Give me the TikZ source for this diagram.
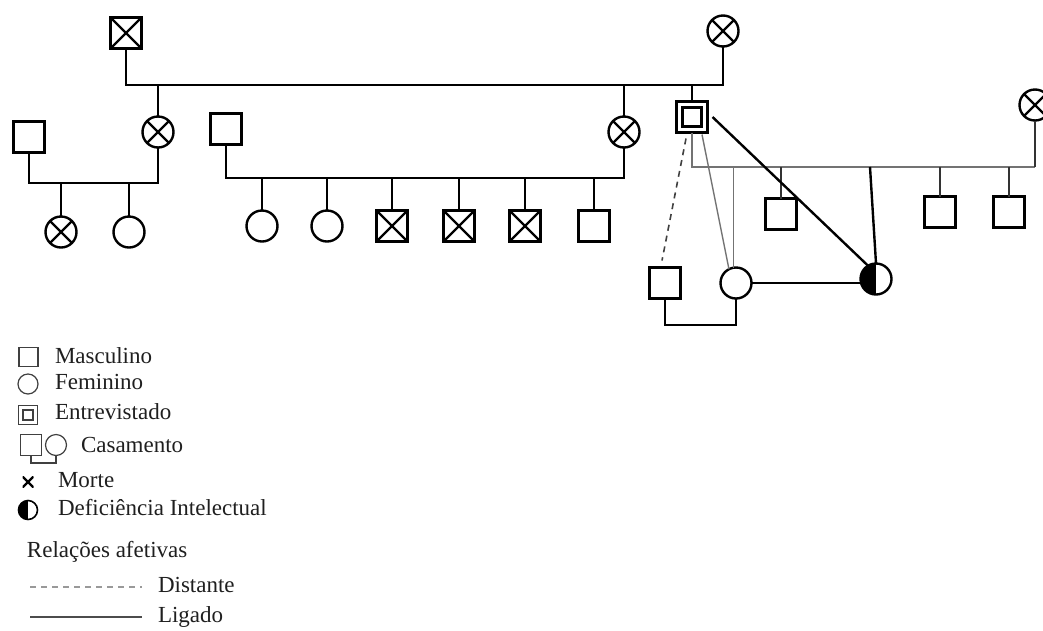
\documentclass[tikz,border=0pt]{standalone}
\usepackage{fontspec}
\setmainfont{Liberation Serif}
\usetikzlibrary{calc}
\begin{document}
\begin{tikzpicture}[x=1pt,y=-1pt,
  every node/.style={inner sep=0pt, outer sep=0pt},
  ln/.style={line width=2.4pt, black},
  mln/.style={line width=1.9pt, black!80},
  gln/.style={line width=1.4pt, black!55},
  sq/.style={draw, line width=2.4pt, rectangle, minimum size=31pt},
  ci/.style={draw, line width=2.4pt, circle, minimum size=31pt},
  dead/.style={path picture={\draw[line width=2.2pt]
      (path picture bounding box.north west) -- (path picture bounding box.south east)
      (path picture bounding box.north east) -- (path picture bounding box.south west);}},
  ego/.style={path picture={\draw[line width=2.2pt]
      ([shift={(-9.5pt,-9.5pt)}]path picture bounding box.center) rectangle
      ([shift={(9.5pt,9.5pt)}]path picture bounding box.center);}},
  halfdi/.style={path picture={\fill
      (path picture bounding box.north west) rectangle (path picture bounding box.south);}},
  lsq/.style={draw=black!75, line width=1.2pt, rectangle, minimum size=19pt},
  lci/.style={draw=black!75, line width=1.2pt, circle, minimum size=20pt},
  legln/.style={line width=1.2pt, black!75},
  txt/.style={anchor=west, text=black!88, font=\fontsize{23}{25}\selectfont},
]
\useasboundingbox (0,0) rectangle (1043,630);

% ---- first generation
\node[sq,dead] (gf) at (126,33) {};
\node[ci,dead] (gm) at (723,31) {};
\coordinate (m1) at (400,85);
\draw[ln] (gf.south) |- (m1) -| (gm.south);

% ---- second generation
\node[ci,dead] (au) at (158,132) {};
\node[ci,dead] (mo) at (624,132) {};
\node[sq,ego] (E) at (692,117) {};
\draw[ln] (au.north) -- (au.north |- m1);
\draw[ln] (mo.north) -- (mo.north |- m1);
\draw[ln] (E.north) -- (E.north |- m1);

% ---- left family
\node[sq] (ua) at (29,137) {};
\coordinate (m2) at (90,183);
\draw[ln] (ua.south) |- (m2) -| (au.south);
\node[ci,dead] (k1) at (61,232) {};
\node[ci] (k2) at (129,232) {};
\draw[ln] (k1.north) -- (k1.north |- m2);
\draw[ln] (k2.north) -- (k2.north |- m2);

% ---- middle family
\node[sq] (fa) at (226,129) {};
\coordinate (m3) at (400,178);
\draw[ln] (fa.south) |- (m3) -| (mo.south);
\node[ci] (s1) at (262,226) {};
\node[ci] (s2) at (327,226) {};
\node[sq,dead] (s3) at (392,226) {};
\node[sq,dead] (s4) at (459,226) {};
\node[sq,dead] (s5) at (525,226) {};
\node[sq] (s6) at (594,226) {};
\foreach \n in {s1,s2,s3,s4,s5,s6}
  \draw[ln] (\n.north) -- (\n.north |- m3);

% ---- interviewee's union
\node[ci,dead] (w) at (1035,105) {};
\coordinate (m4) at (850,167);
\draw[gln] (E.south) |- (w.south |- m4);
\draw[mln] (w.south) -- (w.south |- m4);

\node[ci] (F) at (736,283) {};
\node[sq] (G) at (781,214) {};
\node[ci,halfdi] (H) at (876,279) {};
\node[sq] (R1) at (940,212) {};
\node[sq] (R2) at (1009,212) {};
\draw[gln] (F.100) -- (F.100 |- m4);
\draw[mln] (G.north) -- (G.north |- m4);
\draw[ln] (H.north) -- ([xshift=-6pt]H.north |- m4);
\draw[mln] (R1.north) -- (R1.north |- m4);
\draw[mln] (R2.north) -- (R2.north |- m4);

% ---- daughter's union
\node[sq] (K) at (665,283) {};
\coordinate (m5) at (700,325);
\draw[ln] (K.south) |- (m5) -| (F.south);

% ---- affective relations
\draw[line width=1.6pt, black!75, dash pattern=on 6pt off 5pt]
  ([xshift=-6pt,yshift=-6pt]E.south) -- ([xshift=-3pt,yshift=7pt]K.north);
\draw[gln] ([xshift=10pt,yshift=-2pt]E.south) -- (F.117);
\draw[ln] ([xshift=5pt]E.east) -- (H.121);
\draw[ln] (F.east) -- (F.east -| H.west);

% ---- legend
\node[lsq] (lg1) at (28.5,357) {};
\node[txt] (lt1) at (55,356) {Masculino};
\node[lci] (lg2) at (28,384) {};
\node[txt] (lt2) at (55,382) {Feminino};
\node[lsq, path picture={\draw[line width=1.2pt, black!75]
   ([shift={(-5pt,-5pt)}]path picture bounding box.center) rectangle
   ([shift={(5pt,5pt)}]path picture bounding box.center);}] (lg3) at (28,415) {};
\node[txt] (lt3) at (55,412) {Entrevistado};
\node[lsq, minimum size=21pt] (lg4a) at (31,445) {};
\node[lci, minimum size=21pt] (lg4b) at (56,445) {};
\coordinate (lm) at (43,463);
\draw[legln] (lg4a.south) |- (lm) -| (lg4b.south);
\node[txt] (lt4) at (81,445) {Casamento};
\node[minimum size=11pt, path picture={\draw[line width=2.2pt]
   (path picture bounding box.north west) -- (path picture bounding box.south east)
   (path picture bounding box.north east) -- (path picture bounding box.south west);}]
   (lg5) at (28,482) {};
\node[txt] (lt5) at (58,480) {Morte};
\node[draw, line width=1.6pt, circle, minimum size=19pt, halfdi] (lg6) at (28,510) {};
\node[txt] (lt6) at (58,508) {Deficiência Intelectual};
\node[txt] (lt7) at (27,552) {Relações afetivas};
\coordinate (d1) at (30,587);
\coordinate (d2) at (142,587);
\draw[line width=1.1pt, black!40, dash pattern=on 6pt off 5pt] (d1) -- (d2);
\node[txt] (lt8) at (158,585) {Distante};
\coordinate (e1) at (30,617);
\coordinate (e2) at (142,617);
\draw[line width=1.4pt, black!70] (e1) -- (e2);
\node[txt] (lt9) at (158,617) {Ligado};
\end{tikzpicture}
\end{document}
